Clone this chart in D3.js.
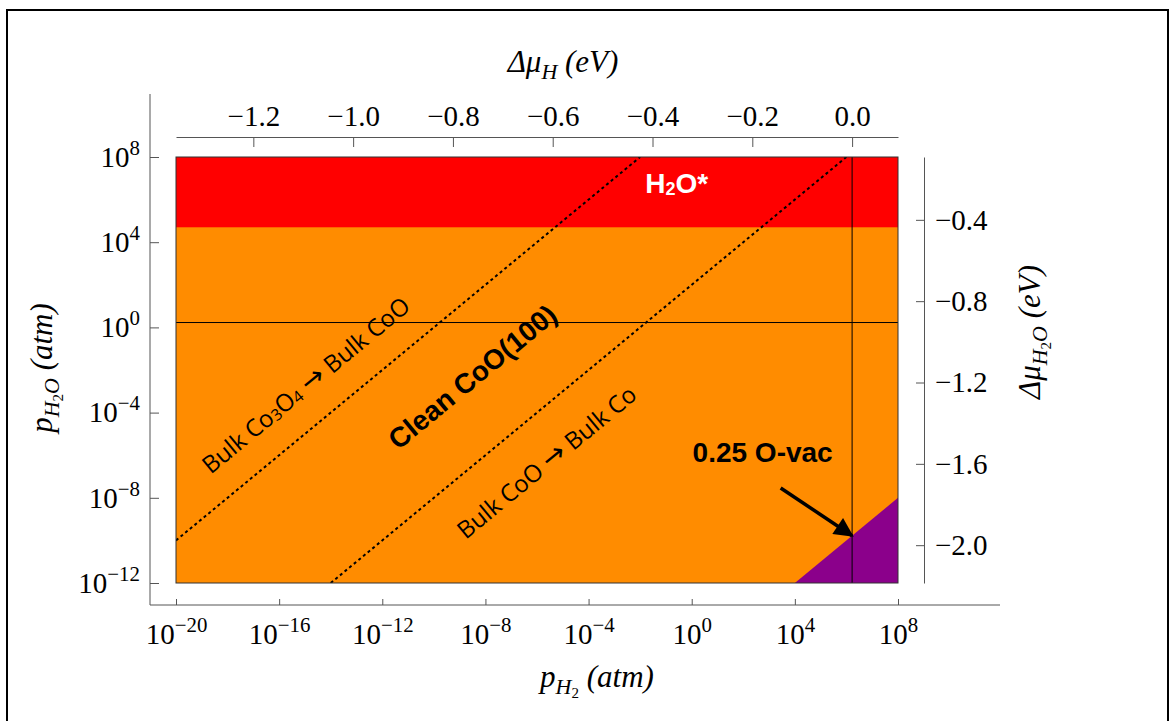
<!DOCTYPE html>
<html>
<head>
<meta charset="utf-8">
<script src="https://cdn.jsdelivr.net/npm/d3@7"></script>
<style>
body{margin:0;background:#fff;}
.tick line{stroke:#555;}
</style>
</head>
<body>
<svg id="chart"></svg>
<script>
// chart values
var xTickExps = [-20,-16,-12,-8,-4,0,4,8];
var yTickExps = [8,4,0,-4,-8,-12];
var muHTicks = [-1.2,-1.0,-0.8,-0.6,-0.4,-0.2,0.0];
var muH2OTicks = [-0.4,-0.8,-1.2,-1.6,-2.0];
var logPH2Range = [-20,8];
var logPH2ORange = [-12,8];
var muHRange = [-1.355,0.092];
var muH2ORange = [-2.186,-0.091];
var waterAdsLogP = 4.7;          // H2O* above this log p(H2O)
var bulkLineOffsets = [10,2];    // log pH2O = log pH2 + offset
var vacancyOffset = -16;         // O-vac below log pH2O = log pH2 - 16
var refMuH = 0.0;
var refMuH2O = -0.905;
var phaseColors = ["#ff8c00","#ff0000","#8b008b"];
// label anchors in (log pH2, log pH2O)
var labelNames = ["H2O*","Bulk Co3O4 → Bulk CoO","Clean CoO(100)","Bulk CoO → Bulk Co","0.25 O-vac"];
var labelLogX = [-0.58,-15.0,-8.5,-5.66,2.75];
var labelLogY = [6.78,-2.66,-2.33,-6.27,-5.85];
var arrowFrom = [3.45,-7.54];

drawDiagram("#chart");

function drawDiagram(id){
	var svgWidth = 1175, svgHeight = 721;
	var left = 176, right = 898, top = 157, bottom = 583;
	var serif = "'Liberation Serif','Times New Roman',serif";
	var sans = "'Liberation Sans',Arial,sans-serif";
	var open = "'Open Sans',sans-serif";

	var svg = d3.select(id).attr("width",svgWidth).attr("height",svgHeight);

	var x = d3.scaleLog().domain(logPH2Range.map(function(e){return Math.pow(10,e);})).range([left,right]);
	var y = d3.scaleLog().domain(logPH2ORange.map(function(e){return Math.pow(10,e);})).range([bottom,top]);
	var xTop = d3.scaleLinear().domain(muHRange).range([left,right]);
	var yRight = d3.scaleLinear().domain(muH2ORange).range([bottom,top]);
	var lx = function(e){return x(Math.pow(10,e));};
	var ly = function(e){return y(Math.pow(10,e));};

	svg.append("rect").attr("x",7).attr("y",10).attr("width",1161).attr("height",720)
	   .attr("fill","none").attr("stroke","#000").attr("stroke-width",2);

	svg.append("clipPath").attr("id","plotClip").append("rect")
	   .attr("x",left).attr("y",top).attr("width",right-left).attr("height",bottom-top);
	var plot = svg.append("g").attr("clip-path","url(#plotClip)");

	// clean CoO(100)
	plot.append("rect").attr("x",left).attr("y",top).attr("width",right-left).attr("height",bottom-top)
	    .attr("fill",phaseColors[0]);
	// H2O*
	plot.append("rect").attr("x",left).attr("y",top)
	    .attr("width",right-left).attr("height",ly(waterAdsLogP)-top)
	    .attr("fill",phaseColors[1]);
	// 0.25 O-vac
	var vac = [[logPH2ORange[0]-vacancyOffset,logPH2ORange[0]],[logPH2Range[1],logPH2ORange[0]],
	           [logPH2Range[1],logPH2Range[1]+vacancyOffset]];
	plot.append("path")
	    .attr("d",d3.line().x(function(d){return lx(d[0]);}).y(function(d){return ly(d[1]);})(vac)+"Z")
	    .attr("fill",phaseColors[2]);

	// bulk transitions
	plot.selectAll(".bulk").data(bulkLineOffsets).enter().append("line")
	    .attr("class","bulk")
	    .attr("x1",function(k){return lx(Math.max(logPH2Range[0],logPH2ORange[0]-k));})
	    .attr("y1",function(k){return ly(Math.max(logPH2Range[0],logPH2ORange[0]-k)+k);})
	    .attr("x2",function(k){return lx(Math.min(logPH2Range[1],logPH2ORange[1]-k));})
	    .attr("y2",function(k){return ly(Math.min(logPH2Range[1],logPH2ORange[1]-k)+k);})
	    .attr("stroke","#000").attr("stroke-width",2).attr("stroke-dasharray","3,3");

	// reference lines
	plot.append("line").attr("x1",xTop(refMuH)).attr("x2",xTop(refMuH)).attr("y1",top).attr("y2",bottom)
	    .attr("stroke","#000").attr("stroke-width",1);
	plot.append("line").attr("x1",left).attr("x2",right).attr("y1",yRight(refMuH2O)).attr("y2",yRight(refMuH2O))
	    .attr("stroke","#000").attr("stroke-width",1);

	svg.append("rect").attr("x",left).attr("y",top).attr("width",right-left).attr("height",bottom-top)
	   .attr("fill","none").attr("stroke","#333").attr("stroke-width",1);

	// axes
	var frameColor = "#555";
	var tickFont = 29;
	function supLabels(sel,fs){
		sel.selectAll(".tick text").each(function(d){
			var t = d3.select(this);
			var e = Math.round(Math.log10(d));
			t.text("");
			t.append("tspan").text("10");
			t.append("tspan").attr("dy",-12).attr("font-size",fs*0.72).text(e<0 ? "\u2212"+(-e) : e);
		});
	}
	var bAxis = svg.append("g").attr("transform","translate(0,605)")
	   .call(d3.axisBottom(x).tickValues(xTickExps.map(function(e){return Math.pow(10,e);}))
	         .tickSizeInner(-6).tickSizeOuter(0).tickPadding(18));
	bAxis.select(".domain").remove();
	bAxis.selectAll("text").attr("font-family",serif).attr("font-size",tickFont).attr("fill","#000");
	supLabels(bAxis,tickFont);

	var lAxis = svg.append("g").attr("transform","translate(150,0)")
	   .call(d3.axisLeft(y).tickValues(yTickExps.map(function(e){return Math.pow(10,e);}))
	         .tickSizeInner(-9).tickSizeOuter(0).tickPadding(10));
	lAxis.select(".domain").remove();
	lAxis.selectAll("text").attr("font-family",serif).attr("font-size",tickFont).attr("fill","#000");
	supLabels(lAxis,tickFont);

	var tAxis = svg.append("g").attr("transform","translate(0,137)")
	   .call(d3.axisTop(xTop).tickValues(muHTicks).tickSizeInner(-10).tickSizeOuter(0).tickPadding(11)
	         .tickFormat(function(d){return d3.format(".1f")(d).replace("-","\u2212");}));
	tAxis.select(".domain").attr("stroke",frameColor);
	tAxis.selectAll("text").attr("font-family",serif).attr("font-size",tickFont).attr("fill","#000");

	var rAxis = svg.append("g").attr("transform","translate(924,0)")
	   .call(d3.axisRight(yRight).tickValues(muH2OTicks).tickSizeInner(-8).tickSizeOuter(0).tickPadding(11)
	         .tickFormat(function(d){return d3.format(".1f")(d).replace("-","\u2212");}));
	rAxis.select(".domain").attr("stroke",frameColor);
	rAxis.selectAll("text").attr("font-family",serif).attr("font-size",tickFont).attr("fill","#000");

	svg.append("line").attr("x1",150).attr("x2",150).attr("y1",94).attr("y2",605).attr("stroke",frameColor);
	svg.append("line").attr("x1",150).attr("x2",1000).attr("y1",605).attr("y2",605).attr("stroke",frameColor);

	// axis titles
	var titleSize = 31, subSize = 22, sub2Size = 15;
	var t1 = svg.append("text").attr("x",563).attr("y",72).attr("text-anchor","middle")
	   .attr("font-family",serif).attr("font-style","italic").attr("font-size",titleSize);
	t1.append("tspan").text("\u0394\u03bc");
	t1.append("tspan").attr("dy",7).attr("font-size",subSize).text("H");
	t1.append("tspan").attr("dy",-7).text(" (eV)");

	var t2 = svg.append("text").attr("x",597).attr("y",687).attr("text-anchor","middle")
	   .attr("font-family",serif).attr("font-style","italic").attr("font-size",titleSize);
	t2.append("tspan").text("p");
	t2.append("tspan").attr("dy",7).attr("font-size",subSize).text("H");
	t2.append("tspan").attr("dy",4).attr("font-size",sub2Size).attr("font-style","normal").text("2");
	t2.append("tspan").attr("dy",-11).text(" (atm)");

	var t3 = svg.append("text").attr("transform","translate(52,368) rotate(-90)").attr("text-anchor","middle")
	   .attr("font-family",serif).attr("font-style","italic").attr("font-size",titleSize);
	t3.append("tspan").text("p");
	t3.append("tspan").attr("dy",7).attr("font-size",subSize).text("H");
	t3.append("tspan").attr("dy",4).attr("font-size",sub2Size).attr("font-style","normal").text("2");
	t3.append("tspan").attr("dy",-4).attr("font-size",subSize).text("O");
	t3.append("tspan").attr("dy",-7).text(" (atm)");

	var t4 = svg.append("text").attr("transform","translate(1040,332) rotate(-90)").attr("text-anchor","middle")
	   .attr("font-family",serif).attr("font-style","italic").attr("font-size",titleSize);
	t4.append("tspan").text("\u0394\u03bc");
	t4.append("tspan").attr("dy",7).attr("font-size",subSize).text("H");
	t4.append("tspan").attr("dy",4).attr("font-size",sub2Size).attr("font-style","normal").text("2");
	t4.append("tspan").attr("dy",-4).attr("font-size",subSize).text("O");
	t4.append("tspan").attr("dy",-7).text(" (eV)");

	// region labels
	var angle = Math.atan2(ly(1)-ly(0),lx(1)-lx(0))*180/Math.PI;
	function place(i){
		return "translate("+lx(labelLogX[i])+","+ly(labelLogY[i])+")";
	}
	var h = svg.append("text").attr("transform",place(0)).attr("text-anchor","middle").attr("dominant-baseline","central")
	   .attr("font-family",sans).attr("font-weight","bold").attr("font-size",28).attr("fill","#fff");
	h.append("tspan").text("H");
	h.append("tspan").attr("dy",6).attr("font-size",18).text("2");
	h.append("tspan").attr("dy",-6).text("O*");

	var b1 = svg.append("text").attr("transform",place(1)+" rotate("+angle+")").attr("text-anchor","middle")
	   .attr("dominant-baseline","central").attr("font-family",open).attr("font-size",24);
	b1.append("tspan").text("Bulk Co");
	b1.append("tspan").attr("dy",5).attr("font-size",16).text("3");
	b1.append("tspan").attr("dy",-5).text("O");
	b1.append("tspan").attr("dy",5).attr("font-size",16).text("4");
	b1.append("tspan").attr("dy",-5).text(" ");
	b1.append("tspan").attr("font-family","'DejaVu Sans',sans-serif").attr("font-size",28).text("\u2192");
	b1.append("tspan").text(" Bulk CoO");

	svg.append("text").attr("transform",place(2)+" rotate("+angle+")").attr("text-anchor","middle")
	   .attr("dominant-baseline","central").attr("font-family",sans).attr("font-weight","bold")
	   .attr("font-size",28).text(labelNames[2]);

	var b2 = svg.append("text").attr("transform",place(3)+" rotate("+angle+")").attr("text-anchor","middle")
	   .attr("dominant-baseline","central").attr("font-family",open).attr("font-size",24);
	b2.append("tspan").text("Bulk CoO ");
	b2.append("tspan").attr("font-family","'DejaVu Sans',sans-serif").attr("font-size",28).text("\u2192");
	b2.append("tspan").text(" Bulk Co");

	svg.append("text").attr("transform",place(4)).attr("text-anchor","middle").attr("dominant-baseline","central")
	   .attr("font-family",sans).attr("font-weight","bold").attr("font-size",28).text(labelNames[4]);

	// arrow to O-vac boundary
	var tipLogX = Math.log10(x.invert(xTop(refMuH)));
	var tip = [xTop(refMuH), ly(tipLogX+vacancyOffset)];
	svg.append("defs").append("marker").attr("id","head").attr("viewBox","0 0 10 10")
	   .attr("refX",9).attr("refY",5).attr("markerWidth",6.5).attr("markerHeight",5.5)
	   .attr("markerUnits","strokeWidth").attr("orient","auto")
	   .append("path").attr("d","M0,0L10,5L0,10Z").attr("fill","#000");
	svg.append("line").attr("x1",lx(arrowFrom[0])).attr("y1",ly(arrowFrom[1]))
	   .attr("x2",tip[0]).attr("y2",tip[1]).attr("stroke","#000").attr("stroke-width",3.5)
	   .attr("marker-end","url(#head)");
}
</script>
</body>
</html>
